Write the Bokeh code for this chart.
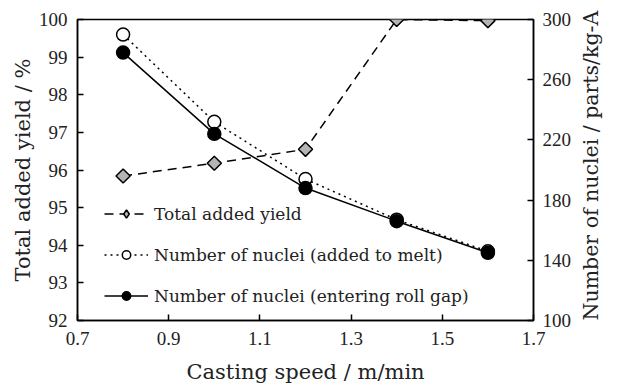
import math
from bokeh.plotting import figure
from bokeh.models import Range1d, LinearAxis, Legend, LegendItem, FixedTicker
from bokeh.embed import file_html
from bokeh.resources import INLINE

speed = [0.8, 1.0, 1.2, 1.4, 1.6]
total_yield = [95.84, 96.18, 96.55, 100.0, 99.97]
nuclei_added = [290, 232, 194, 167, 146]
nuclei_roll = [278, 224, 188, 166, 145]
x_ticks = [0.7, 0.9, 1.1, 1.3, 1.5, 1.7]
y_ticks = [92, 93, 94, 95, 96, 97, 98, 99, 100]
y2_ticks = [100, 140, 180, 220, 260, 300]

LABEL_FONT = "DejaVu Serif"
TICK_FONT = "Liberation Serif"

p = figure(width=618, height=387, output_backend="svg", toolbar_location=None,
           x_range=Range1d(0.7, 1.7), y_range=Range1d(92, 100),
           min_border_left=77, min_border_right=80, min_border_top=19, min_border_bottom=67)
p.extra_y_ranges = {"nuc": Range1d(100, 300)}
p.xgrid.visible = False
p.ygrid.visible = False
p.outline_line_color = "black"
p.outline_line_width = 1.5
p.background_fill_color = "white"
p.border_fill_color = "white"

r_axis = LinearAxis(y_range_name="nuc")
p.add_layout(r_axis, "right")

p.xaxis.ticker = FixedTicker(ticks=x_ticks)
p.yaxis[0].ticker = FixedTicker(ticks=y_ticks)
r_axis.ticker = FixedTicker(ticks=y2_ticks)

p.xaxis.axis_label = "Casting speed / m/min"
p.yaxis[0].axis_label = "Total added yield / %"
r_axis.axis_label = "Number of nuclei / parts/kg-A"
r_axis.axis_label_orientation = math.pi / 2
r_axis.axis_label_align = "start"

for ax in [p.xaxis[0], p.yaxis[0], r_axis]:
    ax.axis_line_width = 1.5
    ax.axis_line_color = "black"
    ax.major_tick_in = 6
    ax.major_tick_out = 0
    ax.major_tick_line_width = 1.5
    ax.minor_tick_line_color = None
    ax.major_label_text_font = TICK_FONT
    ax.major_label_text_font_size = "19px"
    ax.major_label_text_color = "#222222"
    ax.axis_label_text_font = LABEL_FONT
    ax.axis_label_text_font_size = "21px"
    ax.axis_label_text_font_style = "normal"
    ax.axis_label_text_color = "#222222"
r_axis.axis_label_text_font_size = "20.5px"
p.xaxis.major_label_standoff = 11
p.yaxis[0].major_label_standoff = 10
r_axis.major_label_standoff = 9
p.xaxis.axis_label_standoff = 12
p.yaxis[0].axis_label_standoff = 1
r_axis.axis_label_standoff = 17

l1 = p.line(speed, total_yield, line_color="black", line_width=1.5, line_dash="9 6")
s1 = p.scatter(speed, total_yield, marker="square", angle=math.pi / 4, size=10,
               fill_color="#b4b4b4", line_color="black", line_width=1.5)
# legend-only diamond (the rotated square above is not rotated inside legends)
s1_leg = p.scatter(speed, total_yield, marker="diamond", size=14,
                   fill_color="#b4b4b4", line_color="black", line_width=1.5, visible=False)
l2 = p.line(speed, nuclei_added, y_range_name="nuc", line_color="black", line_width=1.5,
            line_dash="2 4")
s2 = p.scatter(speed, nuclei_added, y_range_name="nuc", marker="circle", size=13,
               fill_color="white", line_color="black", line_width=1.5)
l3 = p.line(speed, nuclei_roll, y_range_name="nuc", line_color="black", line_width=1.5)
s3 = p.scatter(speed, nuclei_roll, y_range_name="nuc", marker="circle", size=13,
               fill_color="black", line_color="black", line_width=1.5)

legend = Legend(items=[
    LegendItem(label="Total added yield", renderers=[l1, s1_leg]),
    LegendItem(label="Number of nuclei (added to melt)", renderers=[l2, s2]),
    LegendItem(label="Number of nuclei (entering roll gap)", renderers=[l3, s3]),
], location=(27, 14))
legend.background_fill_alpha = 0
legend.border_line_color = None
legend.padding = 0
legend.margin = 0
legend.spacing = 20
legend.glyph_width = 44
legend.glyph_height = 21
legend.label_height = 21
legend.label_standoff = 6
legend.label_text_font = LABEL_FONT
legend.label_text_font_size = "17px"
legend.label_text_color = "#222222"
p.add_layout(legend)

open("out.html", "w").write(file_html(p, INLINE))
